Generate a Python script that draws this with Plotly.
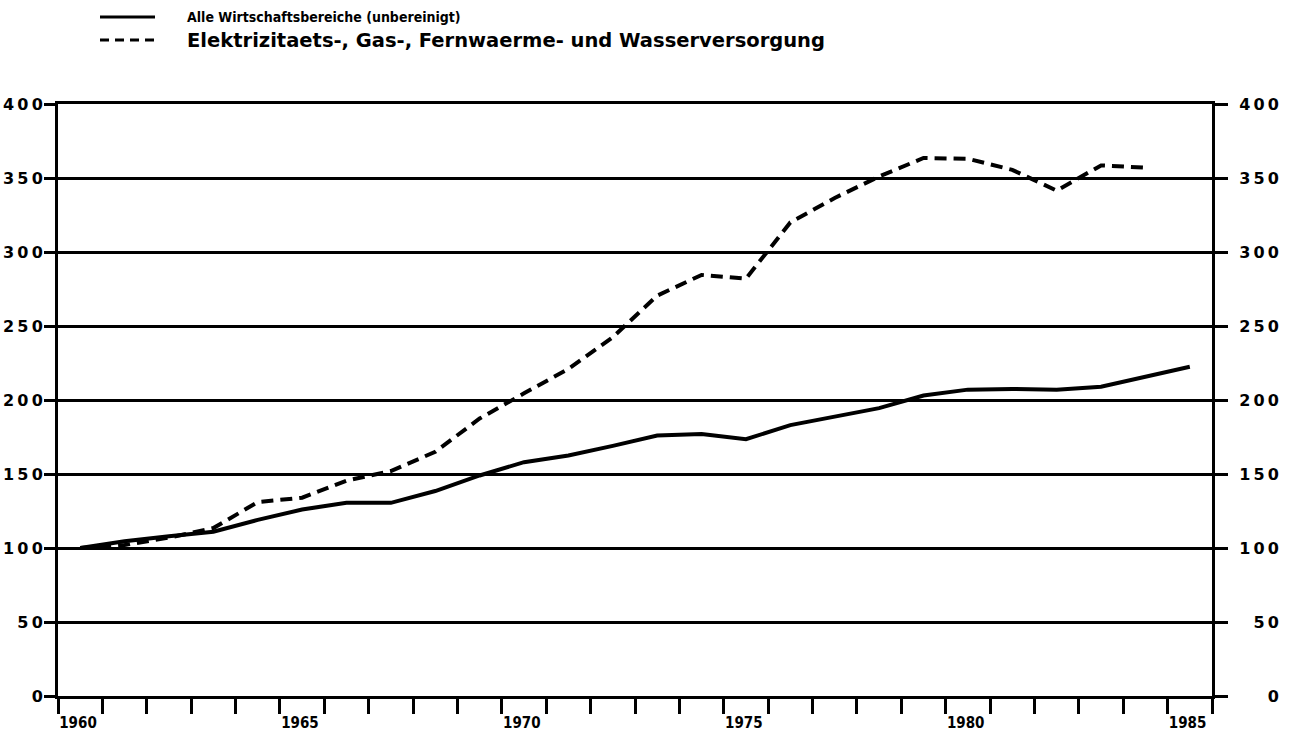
import plotly.graph_objects as go

# ---------------- data ----------------
years = list(range(1960, 1986))
alle = [100, 104.5, 108, 111, 119, 126, 130.5, 130.5, 138.5, 149, 158, 162.5, 169,
        176, 177, 173.5, 183, 189, 194.5, 203, 207, 207.5, 207, 209, 215.5, 222.5]
years_el = list(range(1960, 1985))
elektro = [100, 102, 107, 113.5, 131, 134, 145.5, 152, 165, 187.5, 204.5, 221, 242.5,
           270.5, 284.5, 282, 320, 336.5, 351, 363.5, 363, 355.5, 341.5, 358.5, 357]

name_alle = "Alle Wirtschaftsbereiche (unbereinigt)"
name_el = "Elektrizitaets-, Gas-, Fernwaerme- und Wasserversorgung"

y_ticks = [0, 50, 100, 150, 200, 250, 300, 350, 400]
x_ticks = list(range(1960, 1987))
x_labels = [str(y) if (y % 5 == 0 and y < 1986) else "" for y in x_ticks]

# ---------------- layout helpers ----------------
W, H = 1297, 735
# plot area in page pixels: x 58..1212, y 104..696
L, T = 58, 104
R, B = W - 1212, H - 696
PW, PH = W - L - R, H - T - B

def px_x(px):
    return (px - L) / PW

def px_y(py):
    return (H - B - py) / PH

SP = "\u2009"
FS = "\u2007"

def spaced(v):
    return SP.join(str(v))

def padded(v, n=3):
    s = str(v)
    return (FS + SP) * (n - len(s)) + SP.join(s)

FONT = "DejaVu Sans Condensed"
BOLD = dict(family=FONT, color="black", weight="bold")
BOLD_W = dict(family="DejaVu Sans", color="black", weight="bold")

fig = go.Figure()
fig.add_trace(go.Scatter(
    x=[y + 0.5 for y in years], y=alle, mode="lines", name=name_alle,
    line=dict(color="black", width=4), showlegend=False))
fig.add_trace(go.Scatter(
    x=[y + 0.5 for y in years_el], y=elektro, mode="lines", name=name_el,
    line=dict(color="black", width=4, dash="12px,7px"), showlegend=False,
    yaxis="y2"))

fig.update_layout(
    width=W, height=H,
    margin=dict(l=L, r=R, t=T, b=B, pad=0, autoexpand=False),
    paper_bgcolor="white", plot_bgcolor="white",
    showlegend=False,
    xaxis=dict(
        range=[1960, 1986], tickmode="array", tickvals=x_ticks, ticktext=x_labels,
        ticks="outside", ticklen=15, tickwidth=3, tickcolor="black",
        showline=True, linewidth=3, linecolor="black", mirror=True,
        showgrid=False, zeroline=False, ticklabelshift=20, ticklabelstandoff=-4,
        automargin=False, tickfont=dict(size=15, **BOLD)),
    yaxis=dict(
        range=[0, 400], tickmode="array", tickvals=y_ticks,
        ticktext=[spaced(v) for v in y_ticks],
        ticks="outside", ticklen=11, tickwidth=3, tickcolor="black",
        showline=True, linewidth=3, linecolor="black", automargin=False,
        showgrid=True, gridwidth=3, gridcolor="black", zeroline=False,
        ticklabelstandoff=-2, tickfont=dict(size=16, **BOLD_W)),
    yaxis2=dict(
        range=[0, 400], overlaying="y", side="right", tickmode="array",
        tickvals=y_ticks, ticktext=[padded(v) for v in y_ticks],
        ticks="outside", ticklen=13, tickwidth=3, tickcolor="black",
        showline=True, linewidth=3, linecolor="black", automargin=False,
        showgrid=False, zeroline=False, ticklabelstandoff=8,
        tickfont=dict(size=16, **BOLD_W)),
)

# legend (drawn manually to mimic the original)
fig.add_shape(type="line", xref="paper", yref="paper",
              x0=px_x(100), x1=px_x(155), y0=px_y(17), y1=px_y(17),
              line=dict(color="black", width=3))
fig.add_shape(type="line", xref="paper", yref="paper",
              x0=px_x(100), x1=px_x(155), y0=px_y(40), y1=px_y(40),
              line=dict(color="black", width=3, dash="9px,6px"))
fig.add_annotation(xref="paper", yref="paper", x=px_x(185), y=px_y(17),
                   xanchor="left", yanchor="middle", showarrow=False,
                   text=name_alle, font=dict(size=14, **BOLD))
fig.add_annotation(xref="paper", yref="paper", x=px_x(185), y=px_y(40),
                   xanchor="left", yanchor="middle", showarrow=False,
                   text=name_el, font=dict(size=19.5, **BOLD_W))

fig.write_html(
    "out.html",
    config={"displayModeBar": False, "staticPlot": False},
    post_script="document.body.style.margin='0px';document.body.style.overflow='hidden';")
